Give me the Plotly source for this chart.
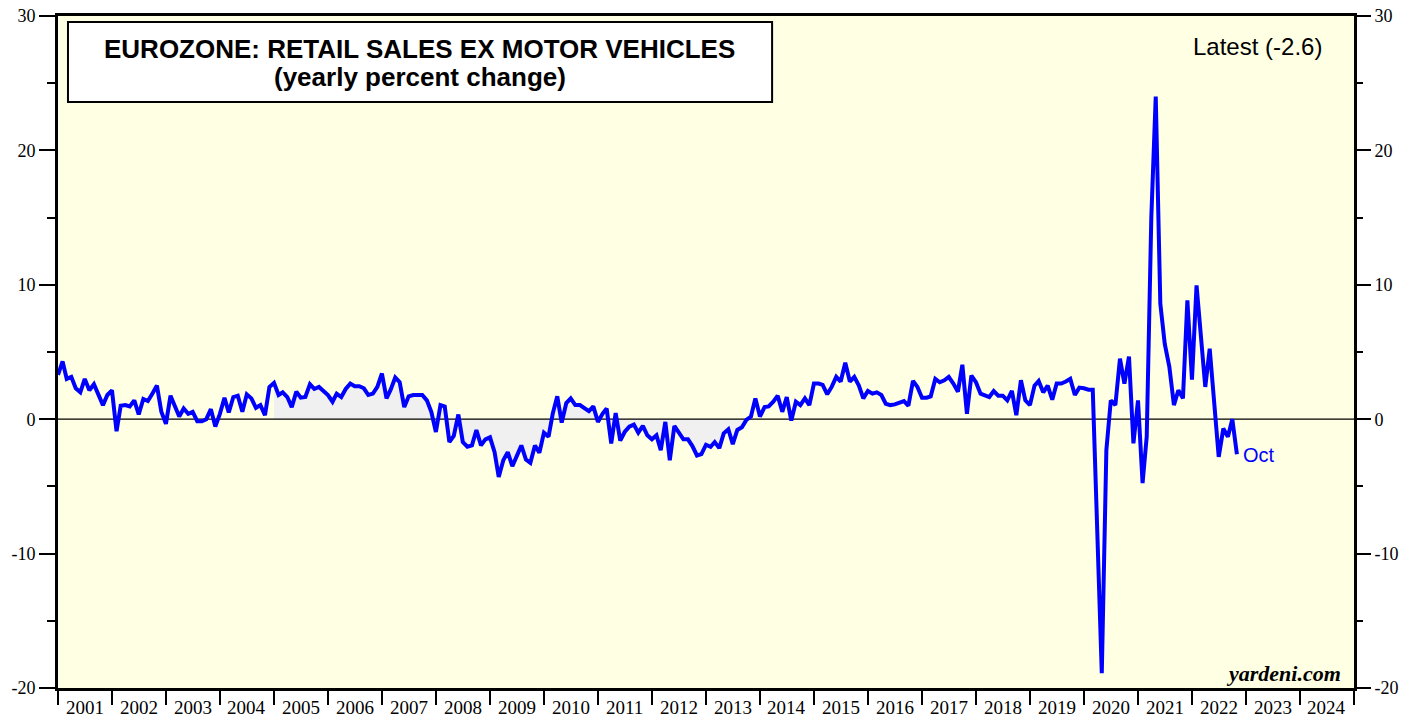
import pandas as pd
import plotly.graph_objects as go

# Monthly yearly % change (plotted at month end: Dec 2000 ... Oct 2022)
values = [
    3.3, 4.3, 3.0, 3.15, 2.3, 2.0, 3.0, 2.15, 2.6, 1.9,
    1.05, 1.8, 2.15, -0.9, 1.0, 1.05, 0.95, 1.4, 0.35, 1.5,
    1.35, 1.9, 2.5, 0.55, -0.35, 1.75, 1.05, 0.2, 0.8, 0.4,
    0.55, -0.15, -0.15, 0.0, 0.75, -0.55, 0.4, 1.6, 0.5, 1.65,
    1.75, 0.55, 1.85, 1.55, 0.85, 1.05, 0.3, 2.4, 2.7, 1.8,
    2.0, 1.65, 0.9, 2.05, 1.6, 1.65, 2.6, 2.25, 2.4, 2.15,
    1.8, 1.3, 1.9, 1.65, 2.25, 2.65, 2.45, 2.45, 2.3, 1.8,
    1.9, 2.4, 3.4, 1.55, 2.2, 3.1, 2.75, 0.9, 1.7, 1.8,
    1.8, 1.8, 1.4, 0.55, -0.95, 1.05, 0.95, -1.7, -1.25, 0.35,
    -1.7, -2.05, -1.95, -0.8, -1.95, -1.5, -1.35, -2.45, -4.3, -3.05,
    -2.45, -3.5, -2.75, -1.95, -3.0, -3.25, -1.95, -2.5, -1.0, -1.3,
    0.4, 1.7, -0.25, 1.2, 1.55, 1.05, 1.05, 0.8, 0.6, 0.95,
    -0.2, 0.4, 0.8, -1.8, 0.45, -1.6, -0.95, -0.55, -0.4, -1.0,
    -0.5, -1.2, -1.5, -1.2, -2.3, -0.2, -3.05, -0.5, -1.0, -1.5,
    -1.5, -2.0, -2.7, -2.6, -1.9, -2.05, -1.7, -2.15, -1.05, -0.75,
    -1.85, -0.8, -0.6, -0.05, 0.2, 1.55, 0.2, 0.9, 0.95, 1.3,
    1.75, 0.55, 1.65, -0.1, 1.3, 1.05, 1.55, 1.05, 2.65, 2.65,
    2.55, 1.85, 2.4, 3.15, 2.8, 4.2, 2.8, 3.15, 2.5, 1.55,
    2.1, 1.9, 2.0, 1.8, 1.15, 1.05, 1.1, 1.25, 1.35, 1.0,
    2.85, 2.4, 1.6, 1.6, 1.7, 3.0, 2.75, 2.9, 3.15, 2.65,
    2.05, 4.05, 0.4, 3.25, 2.75, 1.9, 1.8, 1.65, 2.1, 1.75,
    1.75, 1.4, 2.1, 0.3, 2.9, 1.4, 1.05, 2.5, 2.85, 2.0,
    2.5, 1.45, 2.65, 2.65, 2.8, 3.0, 1.8, 2.35, 2.3, 2.2,
    2.2, -8.5, -18.9, -2.3, 1.4, 1.05, 4.5, 2.65, 4.65, -1.8,
    1.4, -4.75, -1.3, 15.0, 24.0, 8.6, 5.6, 3.9, 1.05, 2.15,
    1.55, 8.85, 2.95, 9.95, 6.2, 2.4, 5.25, 0.65, -2.8, -0.7,
    -1.3, 0.0, -2.6,
]
dates = pd.date_range("2001-01-01", periods=len(values), freq="MS")

# shaded period (fill between series and zero)
shade_start = "2005-01-01"
shade_end = "2013-11-01"

years = list(range(2001, 2025))
y_ticks = [-20, -10, 0, 10, 20, 30]
y_ticklabels = [str(v) for v in y_ticks]
x_range = ["2001-01-01", "2025-01-01"]
y_range = [-20, 30]

title_line1 = "EUROZONE: RETAIL SALES EX MOTOR VEHICLES"
title_line2 = "(yearly percent change)"
latest_text = "Latest (-2.6)"
last_label = "Oct"
source = "yardeni.com"

BLUE = "#0000FF"
SERIF = "Liberation Serif, Times New Roman, serif"
SANS = "Liberation Sans, Arial, sans-serif"

s = pd.Series(values, index=dates)
shade = s[shade_start:shade_end]

fig = go.Figure()
fig.add_trace(go.Scatter(x=shade.index, y=shade.values, mode="lines",
                         line=dict(width=0), fill="tozeroy",
                         fillcolor="rgb(240,240,240)", hoverinfo="skip",
                         showlegend=False))
fig.add_trace(go.Scatter(x=x_range, y=[0, 0], mode="lines",
                         line=dict(color="black", width=1.3),
                         hoverinfo="skip", showlegend=False))
fig.add_trace(go.Scatter(x=dates, y=values, mode="lines",
                         line=dict(color=BLUE, width=4),
                         showlegend=False))
fig.add_trace(go.Scatter(x=dates, y=values, mode="lines", yaxis="y2",
                         line=dict(width=0), opacity=0, hoverinfo="skip",
                         showlegend=False))

axis_common = dict(
    range=y_range, tickvals=y_ticks, ticktext=y_ticklabels, ticks="outside",
    ticklen=16, tickwidth=1.5, tickcolor="black", showgrid=False,
    zeroline=False, automargin=False, ticklabeloverflow="allow",
    tickfont=dict(family=SERIF, size=18, color="black"),
    minor=dict(ticks="outside", ticklen=8, tickwidth=1.5, dtick=5,
               tickcolor="black", showgrid=False),
)

fig.update_layout(
    width=1421, height=719,
    margin=dict(l=58, r=67, t=16, b=31, autoexpand=False),
    paper_bgcolor="white",
    plot_bgcolor="#FFFFE3",
    xaxis=dict(range=x_range, type="date", dtick="M12", tick0="2001-01-01",
               ticks="outside", ticklen=14, tickwidth=2, tickcolor="black",
               showticklabels=False, showgrid=False, zeroline=False,
               automargin=False,
               showline=True, linewidth=3, linecolor="black", mirror=True),
    yaxis=dict(**axis_common, showline=True, linewidth=3, linecolor="black",
               mirror=True),
    yaxis2=dict(**axis_common, overlaying="y", side="right", anchor="x",
                matches="y", showline=False),
    showlegend=False,
)

# title box
fig.add_shape(type="rect", xref="paper", yref="paper",
              x0=0.0077, x1=0.551, y0=0.872, y1=0.991,
              line=dict(color="black", width=2), fillcolor="white", layer="above")

annotations = [
    dict(text=f"<b>{title_line1}</b>", x=0.2793, y=0.951, xref="paper", yref="paper",
         xanchor="center", yanchor="middle", showarrow=False,
         font=dict(family=SANS, size=26, color="black")),
    dict(text=f"<b>{title_line2}</b>", x=0.2793, y=0.909, xref="paper", yref="paper",
         xanchor="center", yanchor="middle", showarrow=False,
         font=dict(family=SANS, size=26, color="black")),
    dict(text=latest_text, x=0.977, y=0.954, xref="paper", yref="paper",
         xanchor="right", yanchor="middle", showarrow=False,
         font=dict(family=SANS, size=24, color="black")),
    dict(text=last_label, x=dates[-1], y=values[-1], xref="x", yref="y",
         xanchor="left", yanchor="middle", xshift=4, yshift=-1, showarrow=False,
         font=dict(family=SANS, size=20, color=BLUE)),
    dict(text=f"<b><i>{source}</i></b>", x=0.9915, y=0.021, xref="paper", yref="paper",
         xanchor="right", yanchor="middle", showarrow=False,
         font=dict(family=SERIF, size=22, color="black")),
]
for yr in years:
    annotations.append(dict(text=str(yr), x=f"{yr}-07-02", y=0, xref="x", yref="paper",
                            xanchor="center", yanchor="middle", yshift=-19,
                            borderpad=0, showarrow=False,
                            font=dict(family=SERIF, size=19, color="black")))
fig.update_layout(annotations=annotations)

# remove the default 8px page margin so the figure fills the window exactly
fig.write_html("out.html",
               config={"displayModeBar": False},
               post_script="document.body.style.margin='0px';document.body.style.overflow='hidden';")
